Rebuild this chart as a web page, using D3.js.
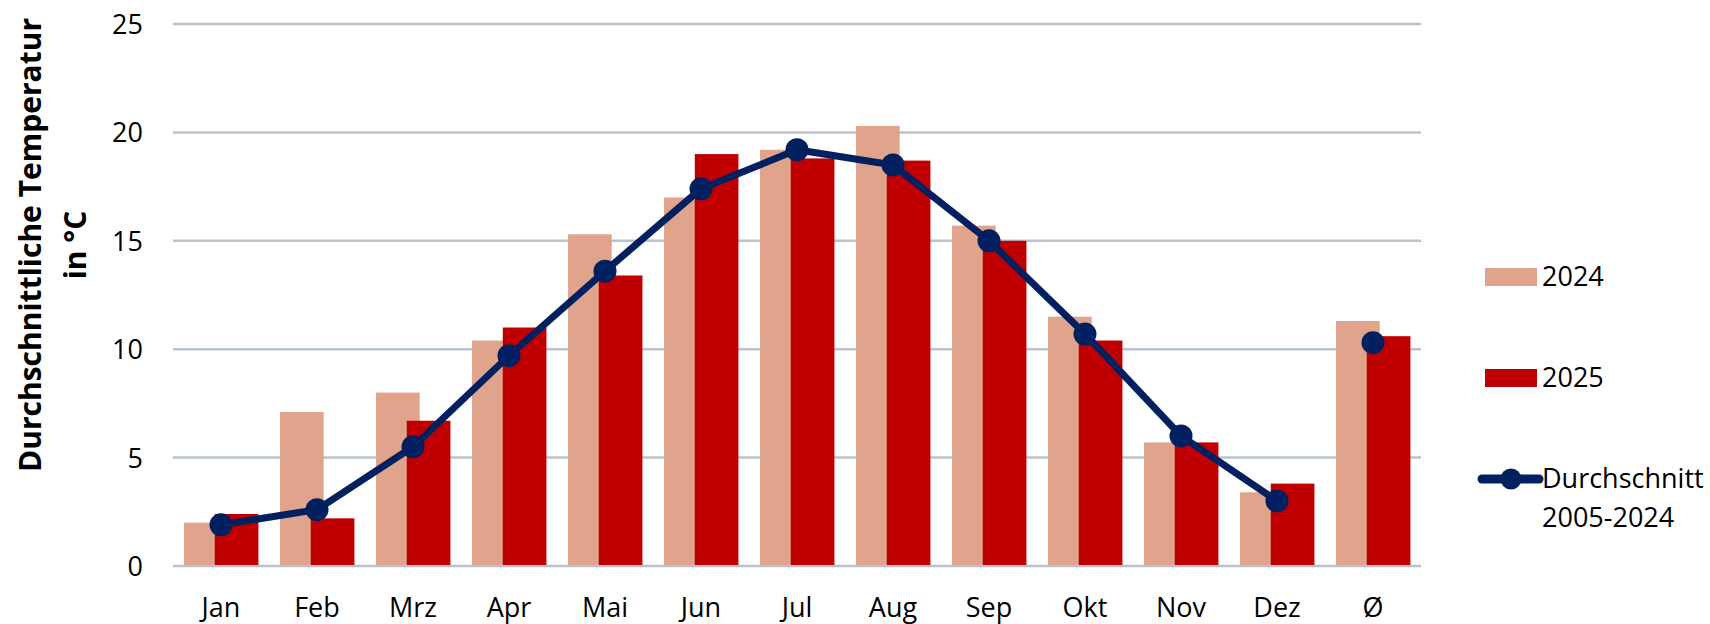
<!DOCTYPE html>
<html>
<head>
<meta charset="utf-8">
<script src="https://cdnjs.cloudflare.com/ajax/libs/d3/7.8.5/d3.min.js"></script>
<style>
  body { margin: 0; background: #fff; }
  svg { display: block; font-family: "Open Sans", sans-serif; }
  .tick-label { font-size: 27px; fill: #000; }
  .legend-label { font-size: 27px; fill: #000; }
  .y-title { font-size: 30px; font-weight: bold; fill: #000; }
</style>
</head>
<body>
<div id="temp-chart"><svg width="1710" height="624"></svg></div>
<script>
// data
var months = ["Jan", "Feb", "Mrz", "Apr", "Mai", "Jun", "Jul", "Aug", "Sep", "Okt", "Nov", "Dez", "Ø"];
var temp2024 = [2.0, 7.1, 8.0, 10.4, 15.3, 17.0, 19.2, 20.3, 15.7, 11.5, 5.7, 3.4, 11.3];
var temp2025 = [2.4, 2.2, 6.7, 11.0, 13.4, 19.0, 18.8, 18.7, 15.0, 10.4, 5.7, 3.8, 10.6];
var tempAvg = [1.9, 2.6, 5.5, 9.7, 13.6, 17.4, 19.2, 18.5, 15.0, 10.7, 6.0, 3.0, 10.3];
var yTicks = [0, 5, 10, 15, 20, 25];

var svg = d3.select("#temp-chart svg"),
    plot_left = 173, plot_right = 1421, plot_top = 24, plot_bottom = 566;

var x = d3.scaleBand().domain(months).range([plot_left, plot_right]).padding(0);
var y = d3.scaleLinear().domain([0, 25]).range([plot_bottom, plot_top]);
var bw = x.bandwidth();

// gridlines
svg.append("g")
    .selectAll("line")
    .data(yTicks)
    .enter().append("line")
    .attr("x1", plot_left)
    .attr("x2", plot_right)
    .attr("y1", function(d) { return y(d); })
    .attr("y2", function(d) { return y(d); })
    .attr("stroke", "#B8C3CE")
    .attr("stroke-width", 2.5);

// y axis labels
var yAxis = svg.append("g")
    .attr("transform", "translate(" + (plot_left - 30) + ",0)")
    .call(d3.axisLeft(y).tickValues(yTicks).tickSize(0).tickPadding(0));
yAxis.select(".domain").remove();
yAxis.selectAll("text")
    .attr("class", "tick-label")
    .attr("dy", "0.35em")
    .style("font-size", "27px")
    .style("font-family", "Open Sans, sans-serif");

// x axis labels
var xAxis = svg.append("g")
    .attr("transform", "translate(0," + (plot_bottom + 51) + ")")
    .call(d3.axisBottom(x).tickSize(0).tickPadding(0));
xAxis.select(".domain").remove();
xAxis.selectAll("text")
    .attr("class", "tick-label")
    .attr("dy", 0)
    .style("font-size", "27px")
    .style("font-family", "Open Sans, sans-serif");

// bars 2024
svg.append("g")
    .selectAll("rect")
    .data(temp2024)
    .enter().append("rect")
    .attr("x", function(d, i) { return x(months[i]) + bw * 0.115; })
    .attr("width", bw * 0.455)
    .attr("y", function(d) { return y(d); })
    .attr("height", function(d) { return y(0) - y(d) - 1; })
    .attr("fill", "#E0A48C");

// bars 2025
svg.append("g")
    .selectAll("rect")
    .data(temp2025)
    .enter().append("rect")
    .attr("x", function(d, i) { return x(months[i]) + bw * 0.435; })
    .attr("width", bw * 0.455)
    .attr("y", function(d) { return y(d); })
    .attr("height", function(d) { return y(0) - y(d) - 1; })
    .attr("fill", "#C00000");

// average line (months only, Ø stands alone)
var line = d3.line()
    .defined(function(d, i) { return i < 12; })
    .x(function(d, i) { return x(months[i]) + bw / 2; })
    .y(function(d) { return y(d); });

svg.append("path")
    .datum(tempAvg)
    .attr("d", line)
    .attr("fill", "none")
    .attr("stroke", "#002060")
    .attr("stroke-width", 7)
    .attr("stroke-linejoin", "round");

svg.append("g")
    .selectAll("circle")
    .data(tempAvg)
    .enter().append("circle")
    .attr("cx", function(d, i) { return x(months[i]) + bw / 2; })
    .attr("cy", function(d) { return y(d); })
    .attr("r", 11.5)
    .attr("fill", "#002060");

// y title
var title = svg.append("text")
    .attr("class", "y-title")
    .attr("text-anchor", "middle")
    .attr("transform", "translate(41,245) rotate(-90)");
title.append("tspan").attr("x", 0).attr("y", 0).text("Durchschnittliche Temperatur");
title.append("tspan").attr("x", 0).attr("y", 45).text("in °C");

// legend
var legend = svg.append("g");

legend.append("rect")
    .attr("x", 1485).attr("y", 268)
    .attr("width", 52).attr("height", 18)
    .attr("fill", "#E0A48C");
legend.append("text")
    .attr("class", "legend-label")
    .attr("x", 1542).attr("y", 286)
    .text("2024");

legend.append("rect")
    .attr("x", 1485).attr("y", 369)
    .attr("width", 52).attr("height", 18)
    .attr("fill", "#C00000");
legend.append("text")
    .attr("class", "legend-label")
    .attr("x", 1542).attr("y", 387)
    .text("2025");

legend.append("line")
    .attr("x1", 1482).attr("x2", 1539)
    .attr("y1", 479).attr("y2", 479)
    .attr("stroke", "#002060")
    .attr("stroke-width", 9)
    .attr("stroke-linecap", "round");
legend.append("circle")
    .attr("cx", 1511).attr("cy", 479)
    .attr("r", 10.5)
    .attr("fill", "#002060");
var lt = legend.append("text")
    .attr("class", "legend-label");
lt.append("tspan").attr("x", 1542).attr("y", 488).text("Durchschnitt");
lt.append("tspan").attr("x", 1542).attr("y", 527).text("2005-2024");
</script>
</body>
</html>
